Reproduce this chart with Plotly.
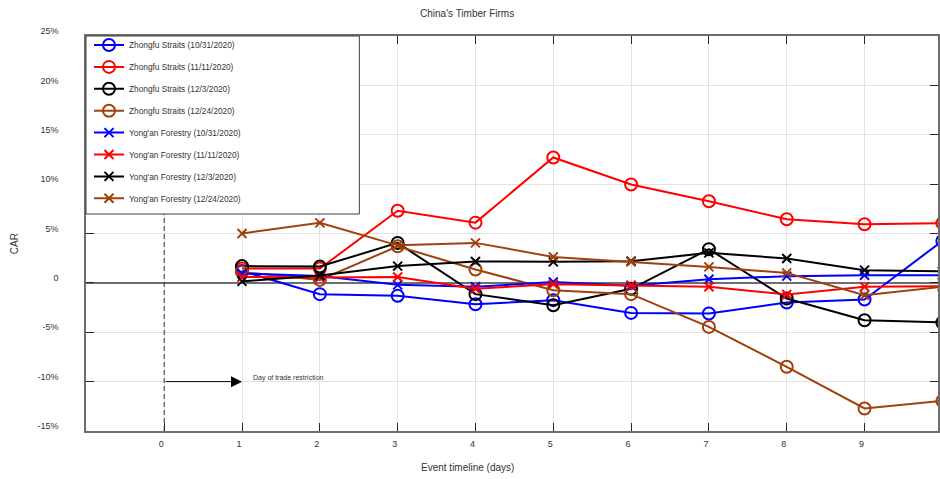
import plotly.graph_objects as go

# Event days after the announcement
days = [1, 2, 3, 4, 5, 6, 7, 8, 9, 10]

# Cumulative abnormal returns (%) - Zhongfu Straits
zf_1031 = [1.2, -1.14, -1.3, -2.16, -1.75, -3.04, -3.1, -1.99, -1.68, 4.25]
zf_1111 = [1.45, 1.45, 7.3, 6.1, 12.7, 9.96, 8.27, 6.45, 5.94, 6.05]
zf_1203 = [1.7, 1.65, 4.05, -1.14, -2.26, -0.6, 3.41, -1.58, -3.78, -4.01]
zf_1224 = [1.1, 0.3, 3.7, 1.36, -0.74, -1.14, -4.46, -8.5, -12.72, -11.95]

# Cumulative abnormal returns (%) - Yong'an Forestry
ya_1031 = [0.95, 0.7, -0.2, -0.4, 0.1, -0.3, 0.37, 0.68, 0.78, 0.78]
ya_1111 = [0.6, 0.55, 0.6, -0.6, -0.13, -0.23, -0.4, -1.18, -0.4, -0.33]
ya_1203 = [0.15, 0.75, 1.7, 2.17, 2.13, 2.2, 3.04, 2.47, 1.29, 1.18]
ya_1224 = [5.0, 6.08, 3.8, 4.05, 2.63, 2.13, 1.62, 1.01, -1.25, -0.4]

series = [
    ("Zhongfu Straits (10/31/2020)", zf_1031, "#0000ff", "circle-open"),
    ("Zhongfu Straits (11/11/2020)", zf_1111, "#ff0000", "circle-open"),
    ("Zhongfu Straits (12/3/2020)", zf_1203, "#000000", "circle-open"),
    ("Zhongfu Straits (12/24/2020)", zf_1224, "#a0400a", "circle-open"),
    ("Yong'an Forestry (10/31/2020)", ya_1031, "#0000ff", "x-thin-open"),
    ("Yong'an Forestry (11/11/2020)", ya_1111, "#ff0000", "x-thin-open"),
    ("Yong'an Forestry (12/3/2020)", ya_1203, "#000000", "x-thin-open"),
    ("Yong'an Forestry (12/24/2020)", ya_1224, "#a0400a", "x-thin-open"),
]

y_ticks = [-15, -10, -5, 0, 5, 10, 15, 20, 25]
y_ticktext = ["-15%", "-10%", "-5%", "0", "5%", "10%", "15%", "20%", "25%"]
x_ticks = [0, 1, 2, 3, 4, 5, 6, 7, 8, 9, 10]

FONT = "Arial, Liberation Sans, sans-serif"
TXT = "#333333"

fig = go.Figure()
for i, (name, vals, color, sym) in enumerate(series):
    size = 12 if sym == "circle-open" else 9
    fig.add_trace(go.Scatter(
        x=days, y=vals, name=name, mode="lines+markers",
        legendgroup=f"g{i}",
        line=dict(color=color, width=2),
        marker=dict(symbol=sym, size=size, color=color,
                    line=dict(color=color, width=2)),
    ))

# legend frame
fig.add_shape(type="rect", xref="paper", yref="paper",
              x0=0, x1=(360 - 86) / 854, y0=(431 - 214) / 395, y1=1.0,
              line=dict(color="#404040", width=1), fillcolor="white",
              layer="above")

# event day marker
fig.add_shape(type="line", xref="x", yref="y", x0=0, x1=0, y0=-15, y1=25,
              line=dict(color="#333333", width=1, dash="5px,3px"),
              layer="between")

fig.add_annotation(x=1, y=-10, ax=0, ay=-10, xref="x", yref="y",
                   axref="x", ayref="y", text="", showarrow=True,
                   arrowhead=2, arrowsize=2.2, arrowwidth=1,
                   arrowcolor="#000000")
fig.add_annotation(x=1.11, y=-9.65, xref="x", yref="y",
                   text="Day of trade restriction", showarrow=False,
                   xanchor="left", yanchor="middle",
                   font=dict(family=FONT, size=7, color=TXT))

fig.add_annotation(x=(468 - 86) / 854, y=(431 - 14) / 395, xref="paper",
                   yref="paper", text="China's Timber Firms",
                   showarrow=False, xanchor="center", yanchor="middle",
                   font=dict(family=FONT, size=10, color=TXT))
fig.add_annotation(x=(468 - 86) / 854, y=(431 - 467) / 395, xref="paper",
                   yref="paper", text="Event timeline (days)",
                   showarrow=False, xanchor="center", yanchor="middle",
                   font=dict(family=FONT, size=10, color=TXT))
fig.add_annotation(x=(15 - 86) / 854, y=(431 - 244) / 395, xref="paper",
                   yref="paper", text="CAR", textangle=-90,
                   showarrow=False, xanchor="center", yanchor="middle",
                   font=dict(family=FONT, size=10, color=TXT))

fig.update_layout(
    width=940, height=479, autosize=False,
    margin=dict(l=86, r=0, t=36, b=48),
    paper_bgcolor="white", plot_bgcolor="white",
    font=dict(family=FONT, color=TXT),
    showlegend=True,
    legend=dict(x=3 / 854, y=1 + 5.5 / 395, xanchor="left", yanchor="top",
                bgcolor="rgba(0,0,0,0)", borderwidth=0,
                tracegroupgap=2.9, traceorder="grouped",
                font=dict(family=FONT, size=8.3, color=TXT)),
    xaxis=dict(range=[-1.005, 9.944], tickmode="array", tickvals=x_ticks,
               ticktext=[str(v) for v in x_ticks],
               showgrid=True, gridcolor="#e2e2e2", gridwidth=1,
               zeroline=False, showline=True, linecolor="#6e6e6e",
               linewidth=1.5, mirror="ticks", ticks="inside", ticklen=8,
               tickcolor="#262626", tickwidth=1,
               ticklabelstandoff=3, ticklabelshift=-3,
               tickfont=dict(family=FONT, size=9, color=TXT)),
    yaxis=dict(range=[-15, 25], tickmode="array", tickvals=y_ticks,
               ticktext=y_ticktext,
               showgrid=True, gridcolor="#e2e2e2", gridwidth=1,
               zeroline=True, zerolinecolor="#6e6e6e", zerolinewidth=1.5,
               showline=True, linecolor="#6e6e6e", linewidth=1.5,
               mirror="ticks", ticks="inside", ticklen=8,
               tickcolor="#262626", tickwidth=1,
               ticklabelstandoff=24, ticklabelshift=-5,
               tickfont=dict(family=FONT, size=9, color=TXT)),
)

fig.write_html("out.html")
